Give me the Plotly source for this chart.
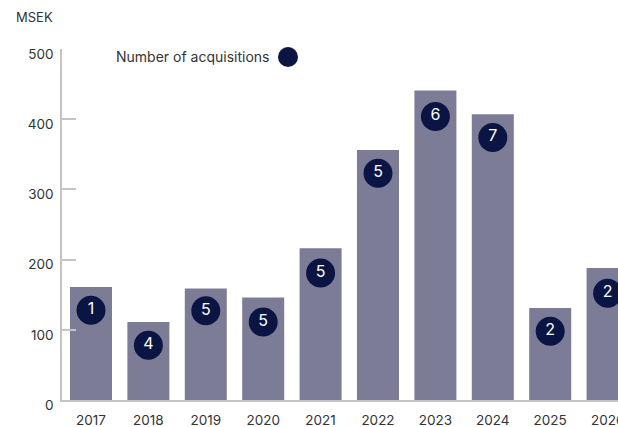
import plotly.graph_objects as go

years = ["2017", "2018", "2019", "2020", "2021", "2022", "2023", "2024", "2025", "2026"]
msek = [161, 111, 159, 146, 216, 356, 441, 407, 131, 188]
acq_count = [1, 4, 5, 5, 5, 5, 6, 7, 2, 2]
marker_y = [128, 78, 127, 111, 181, 323, 404, 374, 98, 152]
y_ticks = [0, 100, 200, 300, 400, 500]

BAR = "#7d7c97"
NAVY = "#0b1543"
AX = "#c4c4c4"
TXT = "#333333"
FONT = "Inter"

fig = go.Figure()
fig.add_trace(go.Bar(x=years, y=msek, marker=dict(color=BAR, line=dict(width=0)),
                     showlegend=False, hoverinfo="skip"))
fig.add_trace(go.Scatter(x=years, y=marker_y, mode="markers+text",
                         text=[str(v) for v in acq_count],
                         textposition="middle center",
                         textfont=dict(color="white", size=16, family=FONT),
                         marker=dict(size=29, color=NAVY),
                         showlegend=False, cliponaxis=True, hoverinfo="skip"))

L, R, T, B = 62, 0, 49, 27
W, H = 618, 427
pw, ph = W - L - R, H - T - B

def px(x):
    return (x - L) / pw

def py(y):
    return (H - B - y) / ph

fig.update_layout(
    width=W, height=H,
    margin=dict(l=L, r=R, t=T, b=B, pad=0, autoexpand=False),
    paper_bgcolor="white", plot_bgcolor="white",
    bargap=0.268,
    font=dict(family=FONT, size=13, color=TXT),
    xaxis=dict(range=[-0.505, 9.181], showgrid=False, showline=True, linecolor=AX,
               linewidth=1.5, ticks="", tickfont=dict(size=13.5, color=TXT),
               ticklabelstandoff=7, fixedrange=True, zeroline=False,
               automargin=False, layer="above traces"),
    yaxis=dict(range=[0, 500], tickvals=y_ticks, showgrid=False, showline=True,
               linecolor=AX, linewidth=1.5, ticks="inside", ticklen=14,
               tickcolor=AX, tickwidth=1.5, tickfont=dict(size=13.5, color=TXT),
               ticklabelstandoff=4, ticklabelshift=5, zeroline=False,
               fixedrange=True, automargin=False),
    annotations=[
        dict(text="MSEK", xref="paper", yref="paper", x=px(14), y=py(17),
             xanchor="left", yanchor="middle", showarrow=False,
             font=dict(size=13, color=TXT, family=FONT)),
        dict(text="Number of acquisitions", xref="paper", yref="paper",
             x=px(271), y=py(57), xanchor="right", yanchor="middle", showarrow=False,
             font=dict(size=14, color=TXT, family=FONT)),
    ],
    shapes=[
        dict(type="circle", xref="paper", yref="paper", xsizemode="pixel",
             ysizemode="pixel", xanchor=px(288), yanchor=py(57),
             x0=-10, x1=10, y0=-10, y1=10, fillcolor=NAVY, line=dict(width=0)),
    ],
)

fig.write_html(
    "out.html",
    config={"displayModeBar": False},
    post_script="document.body.style.margin='0';document.body.style.overflow='hidden';",
)
